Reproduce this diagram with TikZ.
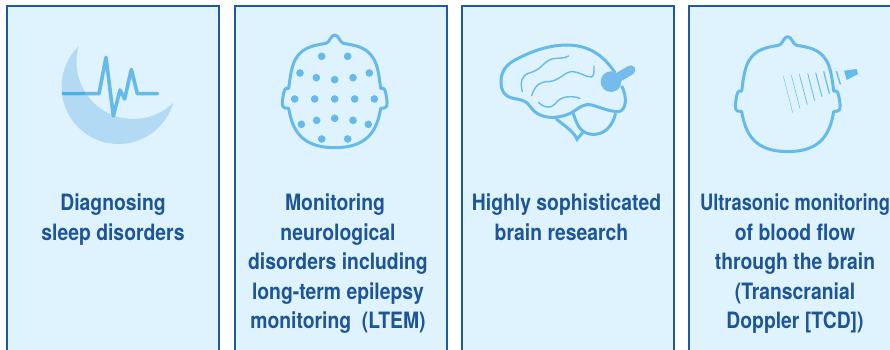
\documentclass[tikz,border=0pt]{standalone}
\usepackage{fontspec}
\setmainfont{TeX Gyre Heros}[FakeStretch=0.86]
\definecolor{boxfill}{HTML}{DFF3FE}
\definecolor{boxline}{HTML}{1E5A9C}
\definecolor{ink}{HTML}{1D5596}
\definecolor{icon}{HTML}{66BAEA}
\definecolor{moon}{HTML}{B3DAF5}
\definecolor{probe}{HTML}{75BBEB}
\definecolor{pulsedark}{HTML}{48B0E6}
\newcommand{\headshape}{(0,105) .. controls (12,105) and (15,127) .. (26,130)
  .. controls (60,136) and (95,140) .. (116,175)
  .. controls (130,197) and (134,235) .. (138,265)
  .. controls (150,262) and (152,270) .. (155,290)
  .. controls (160,320) and (158,325) .. (138,325)
  .. controls (127,390) and (100,443) .. (0,443)
  .. controls (-100,443) and (-127,390) .. (-138,325)
  .. controls (-158,325) and (-160,320) .. (-155,290)
  .. controls (-152,270) and (-150,262) .. (-138,265)
  .. controls (-134,235) and (-130,197) .. (-116,175)
  .. controls (-95,140) and (-60,136) .. (-26,130)
  .. controls (-15,127) and (-12,105) .. (0,105) -- cycle}
\tikzset{
  panel/.style={draw=boxline,line width=1.5pt,fill=boxfill},
  caption/.style={font=\fontsize{22.5}{29.4}\selectfont\bfseries,text=ink,align=center,inner sep=0pt,anchor=north},
  outline/.style={draw=icon,line width=3pt,line join=round},
  fold/.style={draw=icon,line width=1.4pt,line cap=round},
  eegdot/.style={fill=icon},
  beam/.style={draw=icon,line cap=butt}
}
\begin{document}
\begin{tikzpicture}[x=1pt,y=-1pt]
\useasboundingbox (0,0) rectangle (890,350);
\fill[white] (0,0) rectangle (890,350);
% panels
\draw[panel] (7,6) rectangle (219,360);
\draw[panel] (235,6) rectangle (447,360);
\draw[panel] (462,6) rectangle (674,360);
\draw[panel] (689,6) rectangle (900,360);
% moon
\begin{scope}[even odd rule]
\clip (0,0) rectangle (890,350) (133.5,62) circle[radius=57];
\fill[moon] (118.5,87) circle[radius=57];
\end{scope}
% pulse
\begin{scope}[scale=1/3]
\draw[draw=icon,line width=3.6pt,line join=round,line cap=round]
 (190,281) -- (297,281) -- (318,172) -- (340,348) -- (360,270) -- (374,297) -- (394,208) -- (412,281) -- (473,281);
\draw[draw=pulsedark,line width=3.6pt] (187,281) -- (255,281);
\end{scope}
% head with electrodes
\begin{scope}[shift={(334.7,0)},scale=1/3]
\draw[outline] \headshape;
\end{scope}
\begin{scope}[shift={(230,0)},scale=1/3]
\foreach \x/\y in {275/169,353/169,210/219,259/233,314/239,369/233,418/219,194/297,254/297,314/297,374/297,433/297,214/373,260/361,314/355,369/361,415/373,275/417,353/417}
  \fill[eegdot] (\x,\y) circle[radius=11.5];
\end{scope}
% brain
\begin{scope}[shift={(460,0)},scale=1/3]
\draw[outline] (465,218) .. controls (430,165) and (385,135) .. (320,135)
  .. controls (260,135) and (200,160) .. (160,183)
  .. controls (130,200) and (122,225) .. (123,250)
  .. controls (125,285) and (145,293) .. (170,297)
  .. controls (205,303) and (205,315) .. (222,333)
  .. controls (245,355) and (290,360) .. (335,338)
  .. controls (360,322) and (370,310) .. (395,315)
  .. controls (420,322) and (450,335) .. (475,335)
  .. controls (500,332) and (502,290) .. (485,258);
\draw[outline] (338,337) .. controls (350,365) and (355,405) .. (405,403)
  .. controls (445,400) and (460,365) .. (467,340);
\draw[outline,line join=miter] (288,356) .. controls (310,375) and (335,390) .. (347,410) -- (351,418) -- (368,398);
\draw[fold] (187,275) .. controls (180,245) and (185,228) .. (205,220)
  .. controls (245,210) and (250,185) .. (275,177) .. controls (295,172) and (310,178) .. (326,168);
\draw[fold] (215,287) .. controls (225,255) and (240,245) .. (265,245)
  .. controls (300,242) and (315,215) .. (335,215) .. controls (360,215) and (375,232) .. (395,231) .. controls (403,228) and (402,210) .. (402,198);
\draw[fold] (236,308) .. controls (250,322) and (272,328) .. (285,312) .. controls (300,290) and (330,285) .. (360,295);
\fill[probe] (453,245) circle[radius=31];
\draw[draw=probe,line width=9.5pt,line cap=round] (453,245) -- (512,210);
\end{scope}
% head with ultrasound
\begin{scope}[shift={(787.7,1)},xscale=1/3,yscale=1.02/3]
\draw[outline] \headshape;
\end{scope}
\begin{scope}[shift={(680,0)},scale=1/3]
\draw[beam,line width=.4pt] (310,228) -- (338,338);
\draw[beam,line width=.55pt] (334,226) -- (360,326);
\draw[beam,line width=.7pt] (358,223) -- (382,314);
\draw[beam,line width=.85pt] (383,220) -- (404,302);
\draw[beam,line width=1pt] (407,218) -- (426,291);
\draw[beam,line width=1.2pt] (431,214) -- (448,281);
\draw[beam,line width=1.4pt] (469,213) -- (481,253);
\fill[icon] (492,212) -- (530,207) -- (534,222) -- (500,240) -- cycle;
\end{scope}
% captions
\node[caption] (cap1) at (113,194) {Diagnosing\\sleep disorders};
\node[caption] (cap2) at (338,194) {\hspace*{-6pt}Monitoring\\neurological\\disorders including\\long-term epilepsy\\monitoring\ \ (LTEM)};
\node[caption] (cap3) at (566.5,194) {Highly sophisticated\\brain research\hspace*{10pt}};
\node[caption] (cap4) at (795,194) {\scalebox{0.945}[1]{Ultrasonic monitoring}\\of blood flow\hspace*{6pt}\\through the brain\hspace*{5pt}\\(Transcranial\\Doppler [TCD])};
\end{tikzpicture}
\end{document}
